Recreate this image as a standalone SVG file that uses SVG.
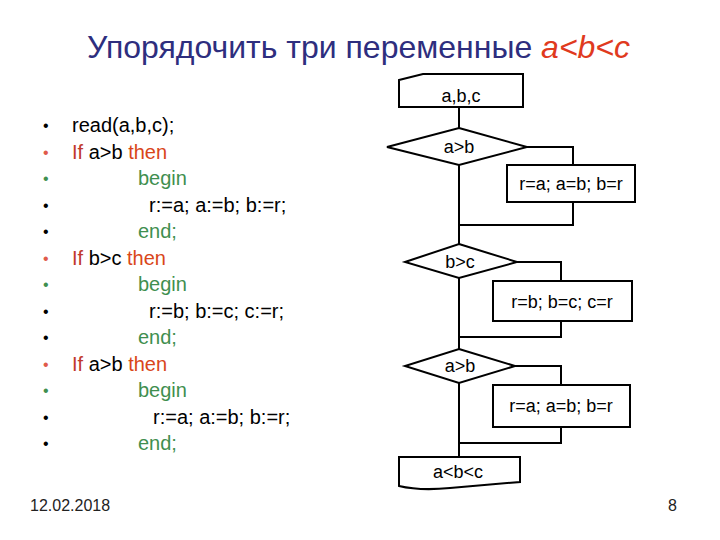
<svg xmlns="http://www.w3.org/2000/svg" width="720" height="540" viewBox="0 0 720 540">
<style>
text{font-family:"Liberation Sans",Arial,sans-serif}
.shape{fill:#fff;stroke:#000;stroke-width:2}
.conn{fill:none;stroke:#000;stroke-width:2}
.lbl{font-size:18px;text-anchor:middle;fill:#000}
.code{font-size:20px;fill:#000}
.kw{fill:#c0392b}
.th{fill:#d9461a}
.gr{fill:#3f8f4f}
.bul{font-size:16px}
</style>
<rect width="720" height="540" fill="#fff"/>
<text x="87" y="58" font-size="32" fill="#2e2e7e">Упорядочить три переменные <tspan fill="#e03a1e" font-style="italic">a&lt;b&lt;c</tspan></text>

<g id="code">
<g class="bul">
<text x="43" y="131" fill="#000">•</text>
<text x="43" y="157.5" fill="#e05a4a">•</text>
<text x="43" y="184" fill="#3f8f4f">•</text>
<text x="43" y="210.5" fill="#000">•</text>
<text x="43" y="237" fill="#000">•</text>
<text x="43" y="263.5" fill="#e05a4a">•</text>
<text x="43" y="290" fill="#3f8f4f">•</text>
<text x="43" y="316.5" fill="#000">•</text>
<text x="43" y="343" fill="#000">•</text>
<text x="43" y="369.5" fill="#e05a4a">•</text>
<text x="43" y="396" fill="#3f8f4f">•</text>
<text x="43" y="422.5" fill="#000">•</text>
<text x="43" y="449" fill="#000">•</text>
</g>
<text class="code" x="72" y="132">read(a,b,c);</text>
<text class="code" x="72" y="158.5"><tspan class="kw">If</tspan> a&gt;b <tspan class="th">then</tspan></text>
<text class="code gr" x="138" y="185">begin</text>
<text class="code" x="149" y="211.5">r:=a; a:=b; b:=r;</text>
<text class="code gr" x="138" y="238">end;</text>
<text class="code" x="72" y="264.5"><tspan class="kw">If</tspan> b&gt;c <tspan class="th">then</tspan></text>
<text class="code gr" x="138" y="291">begin</text>
<text class="code" x="149" y="317.5">r:=b; b:=c; c:=r;</text>
<text class="code gr" x="138" y="344">end;</text>
<text class="code" x="72" y="370.5"><tspan class="kw">If</tspan> a&gt;b <tspan class="th">then</tspan></text>
<text class="code gr" x="138" y="397">begin</text>
<text class="code" x="153" y="423.5">r:=a; a:=b; b:=r;</text>
<text class="code gr" x="138" y="450">end;</text>
</g>

<g id="connectors">
<polyline class="conn" points="459,107 459,128"/>
<polyline class="conn" points="527,147 573,147 573,165"/>
<polyline class="conn" points="573,202 573,225 459,225"/>
<polyline class="conn" points="459,165 459,244"/>
<polyline class="conn" points="517,262 561,262 561,281"/>
<polyline class="conn" points="561,321 561,337 459,337"/>
<polyline class="conn" points="459,278 459,349"/>
<polyline class="conn" points="515,366 561,366 561,385"/>
<polyline class="conn" points="561,427 561,443 459,443"/>
<polyline class="conn" points="459,383 459,457"/>
</g>

<g id="input">
<path class="shape" d="M399,80 L423,74 H523 V107 H399 Z"/>
<text class="lbl" x="461" y="102">a,b,c</text>
</g>
<g id="cond1">
<polygon class="shape" points="459,128 527,147 459,165 387,147"/>
<text class="lbl" x="459" y="153">a&gt;b</text>
</g>
<g id="swap1">
<rect class="shape" x="507" y="165" width="128" height="37"/>
<text class="lbl" x="571" y="190">r=a; a=b; b=r</text>
</g>
<g id="cond2">
<polygon class="shape" points="459,244 517,262 459,278 405,262"/>
<text class="lbl" x="460" y="268">b&gt;c</text>
</g>
<g id="swap2">
<rect class="shape" x="493" y="281" width="139" height="40"/>
<text class="lbl" x="562" y="308">r=b; b=c; c=r</text>
</g>
<g id="cond3">
<polygon class="shape" points="459,349 515,366 459,383 405,366"/>
<text class="lbl" x="460" y="372">a&gt;b</text>
</g>
<g id="swap3">
<rect class="shape" x="493" y="385" width="137" height="42"/>
<text class="lbl" x="561" y="412">r=a; a=b; b=r</text>
</g>
<g id="output">
<path class="shape" d="M399,457 H520 V482 L450,488 Q420,491 399,486 Z"/>
<text class="lbl" x="458" y="478">a&lt;b&lt;c</text>
</g>

<text x="30" y="511" font-size="16" fill="#222">12.02.2018</text>
<text x="668" y="511" font-size="16" fill="#222">8</text>
</svg>
